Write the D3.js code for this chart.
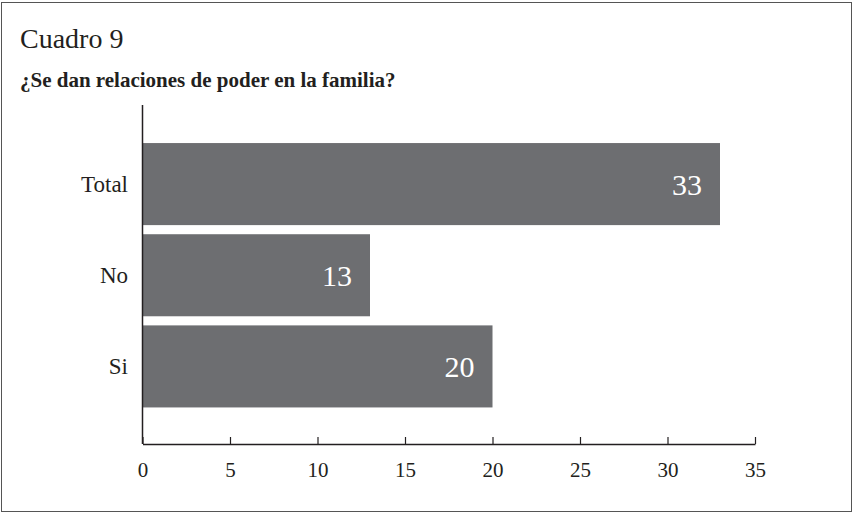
<!DOCTYPE html>
<html><head><meta charset="utf-8">
<script src="https://cdn.jsdelivr.net/npm/d3@7"></script>
<style>html,body{margin:0;padding:0;background:#fff;}svg{display:block;} text{font-family:"Liberation Serif","DejaVu Serif",serif;}</style>
</head><body>
<script>
const categories = ["Total", "No", "Si"];
const values = [33, 13, 20];
const xTicks = [0, 5, 10, 15, 20, 25, 30, 35];
const title = "Cuadro 9";
const subtitle = "¿Se dan relaciones de poder en la familia?";

const W = 853, H = 513;
const font = '"Liberation Serif","DejaVu Serif",serif';
const svg = d3.select("body").append("svg").attr("width", W).attr("height", H);

svg.append("rect").attr("x", 1.5).attr("y", 2.5).attr("width", 850).attr("height", 509)
  .attr("fill", "#fff").attr("stroke", "#555").attr("stroke-width", 1);

svg.append("text").attr("x", 20).attr("y", 48).style("font-family", font)
  .attr("font-size", 28).attr("fill", "#231f20").text(title);
svg.append("text").attr("x", 20).attr("y", 87).style("font-family", font)
  .attr("font-size", 21).attr("font-weight", "bold").attr("fill", "#231f20").text(subtitle);

const x = d3.scaleLinear().domain([0, 35]).range([142.5, 755]);
const y = d3.scaleBand().domain(categories).range([138.5, 412]).paddingInner(0.1).paddingOuter(0.05);
const axisY = 444;

svg.selectAll("rect.bar").data(categories).enter().append("rect").attr("class", "bar")
  .attr("x", x(0)).attr("y", d => y(d))
  .attr("width", (d, i) => x(values[i]) - x(0))
  .attr("height", y.bandwidth()).attr("fill", "#6d6e71");

svg.append("line").attr("x1", x(0)).attr("x2", x(0)).attr("y1", 105).attr("y2", axisY)
  .attr("stroke", "#231f20").attr("stroke-width", 1.5);

const xAxis = d3.axisBottom(x).tickValues(xTicks).tickSizeInner(-7).tickSizeOuter(0).tickPadding(18);
const gx = svg.append("g").attr("transform", `translate(0,${axisY})`).call(xAxis);
gx.attr("font-family", null);
gx.select(".domain").attr("stroke", "#231f20").attr("stroke-width", 1.5);
gx.selectAll(".tick line").attr("stroke", "#231f20").attr("stroke-width", 1.2);
gx.selectAll(".tick text").style("font-family", font).attr("font-size", 21).attr("fill", "#231f20");

svg.selectAll("text.cat").data(categories).enter().append("text").attr("class", "cat")
  .attr("x", 128).attr("y", d => y(d) + y.bandwidth() / 2).attr("dy", "0.35em")
  .attr("text-anchor", "end").style("font-family", font).attr("font-size", 23)
  .attr("fill", "#231f20").text(d => d);

svg.selectAll("text.val").data(categories).enter().append("text").attr("class", "val")
  .attr("x", (d, i) => x(values[i]) - 18).attr("y", d => y(d) + y.bandwidth() / 2).attr("dy", "0.35em")
  .attr("text-anchor", "end").style("font-family", font).attr("font-size", 30)
  .attr("fill", "#fff").text((d, i) => values[i]);
</script>
</body></html>
